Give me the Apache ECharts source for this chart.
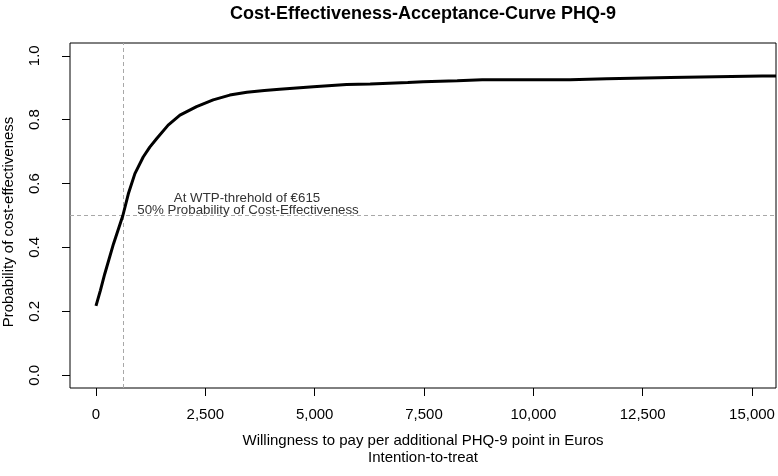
<!DOCTYPE html>
<html>
<head>
<meta charset="utf-8">
<script src="https://cdn.jsdelivr.net/npm/echarts@6/dist/echarts.min.js"></script>
<style>html,body{margin:0;padding:0;background:#fff}#c{width:778px;height:476px}</style>
</head>
<body>
<div id="c"></div>
<script>
// Willingness-to-pay (Euros) and probability of cost-effectiveness
var wtp  = [0, 100, 200, 400, 615, 740, 890, 1080, 1230, 1390, 1650, 1920, 2300, 2680, 3060, 3450, 3850, 4200, 4970, 5730, 6270, 7130, 7480, 8260, 8830, 10840, 11680, 13130, 15230, 15550];
var prob = [0.217, 0.265, 0.317, 0.411, 0.500, 0.568, 0.631, 0.683, 0.714, 0.741, 0.783, 0.814, 0.841, 0.862, 0.877, 0.886, 0.891, 0.895, 0.903, 0.910, 0.912, 0.916, 0.919, 0.922, 0.925, 0.925, 0.928, 0.932, 0.937, 0.937];
var xTicks = [0, 2500, 5000, 7500, 10000, 12500, 15000];
var yTicks = [0, 0.2, 0.4, 0.6, 0.8, 1.0];
var wtpThreshold = 615;
var probThreshold = 0.5;
var titleText = 'Cost-Effectiveness-Acceptance-Curve PHQ-9';
var xTitle1 = 'Willingness to pay per additional PHQ-9 point in Euros';
var xTitle2 = 'Intention-to-treat';
var yTitle = 'Probability of cost-effectiveness';
var note1 = 'At WTP-threhold of \u20ac615';
var note2 = '50% Probability of Cost-Effectiveness';

var FONT = '"Liberation Sans", Arial, sans-serif';
var chart = echarts.init(document.getElementById('c'), null, {renderer: 'canvas'});
var pts = wtp.map(function (x, i) { return [x, prob[i]]; });

chart.setOption({
  animation: false,
  backgroundColor: '#ffffff',
  textStyle: {fontFamily: FONT},
  grid: {left: 70, right: 2, top: 43, bottom: 88, show: true, borderColor: '#000', borderWidth: 1, backgroundColor: 'transparent'},
  xAxis: {
    type: 'value', min: -594, max: 15549,
    splitLine: {show: false},
    axisLine: {show: false, onZero: false},
    axisTick: {show: true, customValues: xTicks, length: 8, inside: false, lineStyle: {color: '#000', width: 1}},
    axisLabel: {show: true, customValues: xTicks, margin: 19, color: '#000', fontSize: 15, fontFamily: FONT,
      formatter: function (v) { return v.toLocaleString('en-US'); }}
  },
  yAxis: {
    type: 'value', min: -0.04, max: 1.04,
    splitLine: {show: false},
    axisLine: {show: false, onZero: false},
    axisTick: {show: true, customValues: yTicks, length: 8, inside: false, lineStyle: {color: '#000', width: 1}},
    axisLabel: {show: true, customValues: yTicks, rotate: 90, margin: 28, color: '#000', fontSize: 15, fontFamily: FONT,
      formatter: function (v) { return v.toFixed(1); }}
  },
  series: [{
    type: 'line', data: pts, showSymbol: false, symbol: 'none', smooth: false,
    lineStyle: {color: '#000', width: 3},
    z: 5,
    markLine: {
      silent: true, symbol: ['none', 'none'], label: {show: false},
      lineStyle: {color: '#a8a8a8', width: 1, type: [4, 3]},
      data: [{xAxis: wtpThreshold}, {yAxis: probThreshold}]
    }
  }],
  graphic: [
    {type: 'text', x: 423, y: 14, style: {text: titleText, font: 'bold 18px ' + FONT, fill: '#000', textAlign: 'center', textVerticalAlign: 'middle'}},
    {type: 'text', x: 423, y: 441, style: {text: xTitle1, font: '15px ' + FONT, fill: '#000', textAlign: 'center', textVerticalAlign: 'middle'}},
    {type: 'text', x: 423, y: 458, style: {text: xTitle2, font: '15px ' + FONT, fill: '#000', textAlign: 'center', textVerticalAlign: 'middle'}},
    {type: 'text', x: 9, y: 222, rotation: Math.PI / 2, style: {text: yTitle, font: '15px ' + FONT, fill: '#000', textAlign: 'center', textVerticalAlign: 'middle'}},
    {type: 'text', x: 247, y: 198, style: {text: note1, font: '13.3px ' + FONT, fill: '#333', textAlign: 'center', textVerticalAlign: 'middle'}},
    {type: 'text', x: 248, y: 210, style: {text: note2, font: '13.3px ' + FONT, fill: '#333', textAlign: 'center', textVerticalAlign: 'middle'}}
  ]
});
</script>
</body>
</html>
